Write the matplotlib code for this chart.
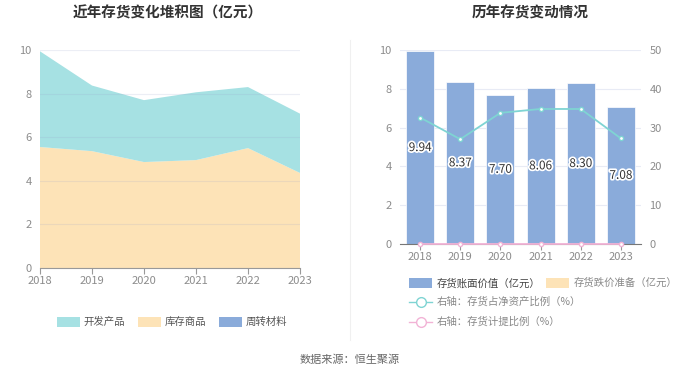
import matplotlib
matplotlib.use("Agg")
import matplotlib.pyplot as plt
import matplotlib.patheffects as pe
from matplotlib.patches import Patch
from matplotlib.lines import Line2D
import numpy as np

plt.rcParams['font.family'] = ['Noto Sans CJK SC', 'DejaVu Sans']

years = ['2018', '2019', '2020', '2021', '2022', '2023']
total = [9.94, 8.37, 7.70, 8.06, 8.30, 7.08]
goods = [5.55, 5.36, 4.86, 4.95, 5.50, 4.36]
materials = [0.0, 0.0, 0.0, 0.0, 0.0, 0.0]
developed = [t - g - m for t, g, m in zip(total, goods, materials)]
impairment = [0.0, 0.0, 0.0, 0.0, 0.0, 0.0]
ratio_net_assets = [32.6, 27.0, 33.8, 34.8, 34.8, 27.2]
ratio_provision = [0.0, 0.0, 0.0, 0.0, 0.0, 0.0]

c_dev = '#a6e1e3'
c_goods = '#fde3b7'
c_mat = '#8aabda'
c_bar = '#8aabda'
c_line1 = '#7fd4d3'
c_line2 = '#f2b3d6'
grid_c = '#e8ebf5'
tick_c = '#8c8c8c'

W, H = 700, 378
fig = plt.figure(figsize=(7, 3.78), dpi=100)

def rect(x0, y0, x1, y1):
    return [x0 / W, 1 - y1 / H, (x1 - x0) / W, (y1 - y0) / H]

# Left chart
ax1 = fig.add_axes(rect(40, 50, 300, 268))
x = np.arange(len(years))
ax1.stackplot(x, materials, goods, developed, colors=[c_mat, c_goods, c_dev], linewidth=0)
ax1.set_xlim(0, len(years) - 1)
ax1.set_ylim(0, 10)
ax1.set_yticks([0, 2, 4, 6, 8, 10])
ax1.set_xticks(x)
ax1.set_xticklabels(years)
ax1.grid(axis='y', color='#9aa3c8', alpha=0.18, linewidth=0.8)
ax1.set_axisbelow(False)
for s in ['top', 'right', 'left']:
    ax1.spines[s].set_visible(False)
ax1.spines['bottom'].set_color('#999999')
ax1.tick_params(axis='y', length=0, colors=tick_c, labelsize=8, pad=6)
ax1.tick_params(axis='x', length=4, color='#999999', colors=tick_c, labelsize=8, pad=2)

fig.text(168 / W, 1 - 13 / H, '近年存货变化堆积图（亿元）', ha='center', va='center', fontsize=10.5,
         fontweight='bold', color='#333333')

handles1 = [Patch(facecolor=c_dev, edgecolor='none'), Patch(facecolor=c_goods, edgecolor='none'), Patch(facecolor=c_mat, edgecolor='none')]
fig.legend(handles1, ['开发产品', '库存商品', '周转材料'], loc='center', bbox_to_anchor=(172 / W, 1 - 322 / H),
           ncol=3, frameon=False, fontsize=7.5, handlelength=2.2, handleheight=1.1, columnspacing=1.2,
           handletextpad=0.4, labelcolor='#555555')

# Separator
fig.add_artist(Line2D([350 / W, 350 / W], [1 - 40 / H, 1 - 340 / H], color='#f0f0f0', linewidth=0.8))

# Right chart
ax2 = fig.add_axes(rect(400, 50, 641, 244))
bars = ax2.bar(x, total, width=0.7, color=c_bar, edgecolor='white', linewidth=0.5, zorder=2)
ax2.bar(x, impairment, width=0.7, bottom=total, color=c_goods, zorder=2)
ax2.set_xlim(-0.5, len(years) - 0.5)
ax2.set_ylim(0, 10)
ax2.set_yticks([0, 2, 4, 6, 8, 10])
ax2.set_xticks(x)
ax2.set_xticklabels(years)
ax2.grid(axis='y', color=grid_c, linewidth=0.8, zorder=0)
ax2.set_axisbelow(True)
for s in ['top', 'right', 'left']:
    ax2.spines[s].set_visible(False)
ax2.spines['bottom'].set_color('#777777')
ax2.tick_params(axis='y', length=0, colors=tick_c, labelsize=8, pad=6)
ax2.tick_params(axis='x', length=4, color='#999999', colors=tick_c, labelsize=8, pad=2)
fig.text(530 / W, 1 - 13 / H, '历年存货变动情况', ha='center', va='center', fontsize=10.5,
         fontweight='bold', color='#333333')
for xi, v in zip(x, total):
    ax2.text(xi, v / 2, f'{v:.2f}', ha='center', va='center', fontsize=8.5, color='#333333', zorder=5,
             path_effects=[pe.withStroke(linewidth=2.5, foreground='white')])

ax3 = ax2.twinx()
ax3.set_ylim(0, 50)
ax3.set_yticks([0, 10, 20, 30, 40, 50])
for s in ['top', 'right', 'left', 'bottom']:
    ax3.spines[s].set_visible(False)
ax3.tick_params(axis='y', length=0, colors=tick_c, labelsize=8, pad=6)
ax3.plot(x, ratio_net_assets, color=c_line1, linewidth=1.3, marker='o', markersize=3,
         markerfacecolor='white', markeredgecolor=c_line1, zorder=4)
ax3.plot(x, ratio_provision, color=c_line2, linewidth=1.3, marker='o', markersize=3,
         markerfacecolor='white', markeredgecolor=c_line2, zorder=4, clip_on=False)

h_bar = Patch(facecolor=c_bar, edgecolor='none')
h_imp = Patch(facecolor=c_goods, edgecolor='none')
fig.legend([h_bar, h_imp], ['存货账面价值（亿元）', '存货跌价准备（亿元）'], loc='center left',
           bbox_to_anchor=(400 / W, 1 - 283 / H), ncol=2, frameon=False, fontsize=7.5, handlelength=2.2,
           handleheight=1.1, columnspacing=0.6, handletextpad=0.4, labelcolor=['#444444', '#888888'])
h_l1 = Line2D([0], [0], color=c_line1, linewidth=1, marker='o', markersize=7, markerfacecolor='white', markeredgecolor=c_line1)
h_l2 = Line2D([0], [0], color=c_line2, linewidth=1, marker='o', markersize=7, markerfacecolor='white', markeredgecolor=c_line2)
fig.legend([h_l1], ['右轴：存货占净资产比例（%）'], loc='center left', bbox_to_anchor=(400 / W, 1 - 302 / H),
           frameon=False, fontsize=7.5, handlelength=2.2, handletextpad=0.4, labelcolor='#888888')
fig.legend([h_l2], ['右轴：存货计提比例（%）'], loc='center left', bbox_to_anchor=(400 / W, 1 - 322 / H),
           frameon=False, fontsize=7.5, handlelength=2.2, handletextpad=0.4, labelcolor='#888888')

fig.text(350 / W, 1 - 360 / H, '数据来源：恒生聚源', ha='center', va='center', fontsize=8, color='#666666')

fig.savefig('out.png', dpi=100, facecolor='white')
